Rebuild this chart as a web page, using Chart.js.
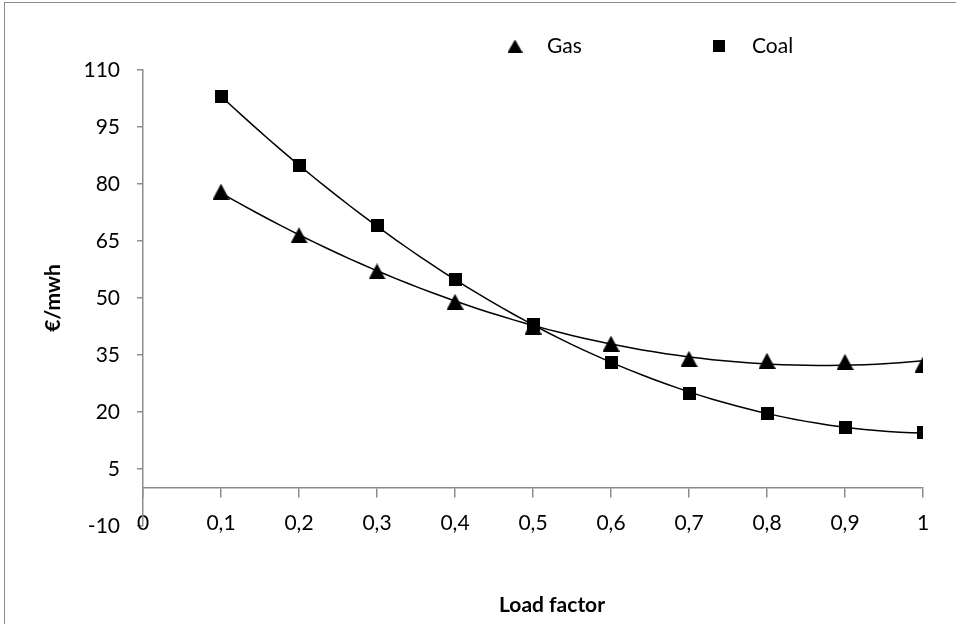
<!DOCTYPE html>
<html>
<head>
<meta charset="utf-8">
<title>Load factor vs cost</title>
<script src="https://cdn.jsdelivr.net/npm/chart.js@4.4.1/dist/chart.umd.min.js"></script>
<style>
  html, body { margin: 0; padding: 0; background: #fff; }
  #frame {
    position: absolute; left: 4px; top: 2px;
    width: 1000px; height: 700px;
    border: 1.5px solid #8c8c8c;
  }
  #wrap { position: absolute; left: 0; top: 0; width: 956px; height: 624px; }
</style>
</head>
<body>
<div id="frame"></div>
<div id="wrap"><canvas id="myChart"></canvas></div>
<script>
// data
const loadFactor = [0.1, 0.2, 0.3, 0.4, 0.5, 0.6, 0.7, 0.8, 0.9, 1.0];
const gasCost = [78, 66.5, 57, 49, 42.5, 38, 34, 33.5, 33.2, 32.5];
const coalCost = [103, 85, 69, 55, 43, 33, 25, 19.7, 16, 14.5];
const yTicks = [-10, 5, 20, 35, 50, 65, 80, 95, 110];

const FONT = 'Lato, "Liberation Sans", sans-serif';

// marker images, centred on the point (box centre = value)
function triangleImg(w, h) {
  const c = document.createElement('canvas');
  c.width = w; c.height = h;
  const g = c.getContext('2d');
  g.fillStyle = '#000';
  g.beginPath();
  g.moveTo(w / 2, 0);
  g.lineTo(w, h);
  g.lineTo(0, h);
  g.closePath();
  g.fill();
  return c;
}
function squareImg(s) {
  const c = document.createElement('canvas');
  c.width = s; c.height = s;
  const g = c.getContext('2d');
  g.fillStyle = '#000';
  g.fillRect(0, 0, s, s);
  return c;
}

// least squares polynomial trendline
function polyFit(xs, ys, order) {
  const n = order + 1;
  const A = [];
  for (let i = 0; i < n; i++) {
    A.push(new Array(n + 1).fill(0));
    for (let j = 0; j < n; j++) {
      xs.forEach(x => { A[i][j] += Math.pow(x, i + j); });
    }
    xs.forEach((x, k) => { A[i][n] += ys[k] * Math.pow(x, i); });
  }
  for (let c = 0; c < n; c++) {
    for (let r = c + 1; r < n; r++) {
      const f = A[r][c] / A[c][c];
      for (let k = c; k <= n; k++) A[r][k] -= f * A[c][k];
    }
  }
  const coef = new Array(n).fill(0);
  for (let r = n - 1; r >= 0; r--) {
    let s = A[r][n];
    for (let k = r + 1; k < n; k++) s -= A[r][k] * coef[k];
    coef[r] = s / A[r][r];
  }
  return coef;
}

function trendPoints(xs, ys) {
  const coef = polyFit(xs, ys, 2);
  const pts = [];
  const x0 = xs[0], x1 = xs[xs.length - 1];
  for (let i = 0; i <= 60; i++) {
    const x = x0 + (x1 - x0) * i / 60;
    pts.push({ x: x, y: coef[0] + coef[1] * x + coef[2] * x * x });
  }
  return pts;
}

const toXY = ys => loadFactor.map((x, i) => ({ x: x, y: ys[i] }));

const data = {
  datasets: [
    {
      label: 'Gas',
      data: toXY(gasCost),
      pointStyle: triangleImg(17, 16),
      pointRadius: 9,
      showLine: false
    },
    {
      label: 'Coal',
      data: toXY(coalCost),
      pointStyle: squareImg(13),
      pointRadius: 7,
      showLine: false
    },
    {
      label: 'gasTrend',
      data: trendPoints(loadFactor, gasCost),
      showLine: true,
      pointRadius: 0,
      borderColor: '#000',
      borderWidth: 1.5,
      tension: 0
    },
    {
      label: 'coalTrend',
      data: trendPoints(loadFactor, coalCost),
      showLine: true,
      pointRadius: 0,
      borderColor: '#000',
      borderWidth: 1.5,
      tension: 0
    }
  ]
};

// legend and x title drawn by hand
const legendTri = triangleImg(15, 13);
const legendSq = squareImg(12);
const decor = {
  id: 'decor',
  afterDraw(chart) {
    const ctx = chart.ctx;
    const ly = 46;
    ctx.save();
    ctx.fillStyle = '#000';
    ctx.font = '21px ' + FONT;
    ctx.textBaseline = 'middle';
    ctx.textAlign = 'left';
    ctx.drawImage(legendTri, 515 - 7.5, ly - 6.5);
    ctx.fillText(chart.data.datasets[0].label, 547, ly);
    ctx.drawImage(legendSq, 719 - 6, ly - 6);
    ctx.fillText(chart.data.datasets[1].label, 752, ly);
    ctx.font = 'bold 21px ' + FONT;
    ctx.textAlign = 'center';
    ctx.fillText('Load factor', 552, 605);
    ctx.restore();
  }
};

const config = {
  type: 'scatter',
  data: data,
  plugins: [decor],
  options: {
    responsive: true,
    maintainAspectRatio: false,
    animation: false,
    layout: { padding: { left: 30, top: 70, right: 33, bottom: 98 } },
    plugins: {
      legend: { display: false },
      tooltip: { enabled: false }
    },
    scales: {
      x: {
        type: 'linear',
        position: { y: 0 },
        min: 0,
        max: 1,
        ticks: {
          stepSize: 0.1,
          color: '#000',
          font: { family: FONT, size: 21 },
          padding: 14,
          maxRotation: 0,
          callback: v => String(Math.round(v * 10) / 10).replace('.', ',')
        },
        grid: { drawOnChartArea: false, drawTicks: true, tickLength: 9, color: '#8c8c8c', lineWidth: 1.5 },
        border: { display: true, color: '#8c8c8c', width: 1.5 }
      },
      y: {
        type: 'linear',
        position: 'left',
        min: yTicks[0],
        max: yTicks[yTicks.length - 1],
        afterFit: scale => { scale.width = 113; },
        ticks: {
          stepSize: yTicks[1] - yTicks[0],
          color: '#000',
          font: { family: FONT, size: 21 },
          padding: 17
        },
        grid: { drawOnChartArea: false, drawTicks: true, tickLength: 6, color: '#8c8c8c', lineWidth: 1.5 },
        border: { display: true, color: '#8c8c8c', width: 1.5 },
        title: {
          display: true,
          text: '€/mwh',
          color: '#000',
          font: { family: FONT, size: 21, weight: 'bold' },
          padding: { top: 11, bottom: 0 }
        }
      }
    }
  }
};

var myChart = new Chart(document.getElementById('myChart'), config);
</script>
</body>
</html>
